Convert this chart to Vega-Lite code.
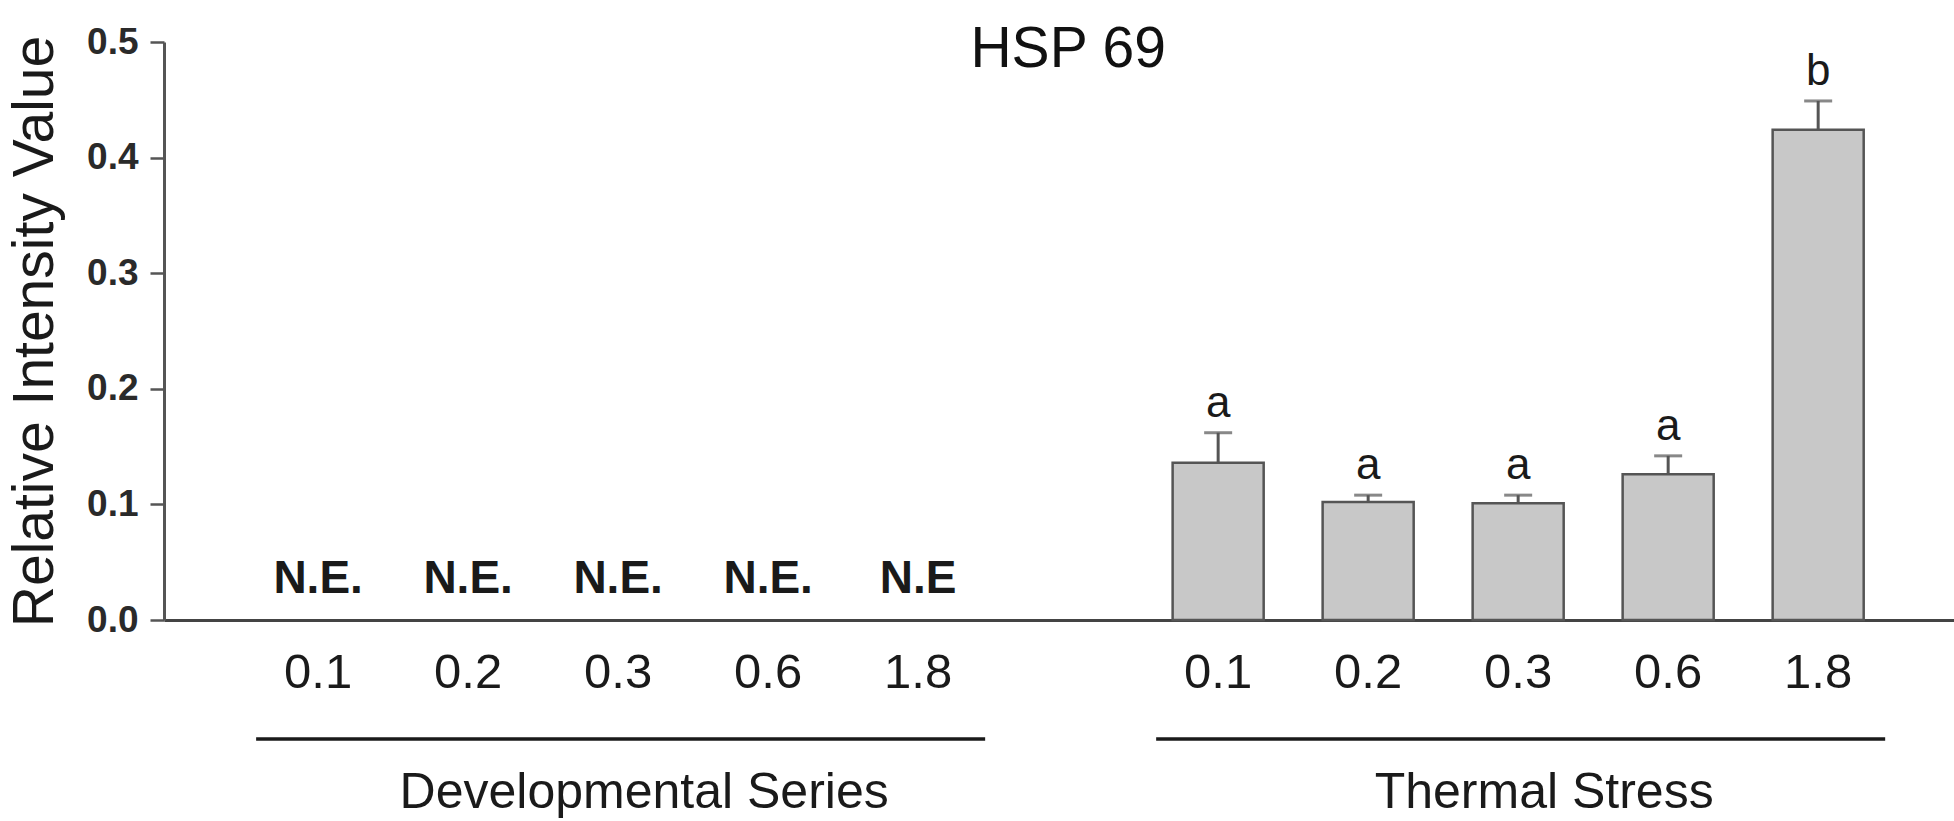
{
  "$schema": "https://vega.github.io/schema/vega-lite/v6.json",
  "autosize": {"type": "none"},
  "padding": {"left": 164, "top": 42, "right": 0, "bottom": 201},
  "width": 1790,
  "height": 578,
  "background": "white",
  "config": {
    "view": {"stroke": null},
    "text": {"font": "Liberation Sans", "color": "#1a1a1a"}
  },
  "datasets": {
    "bars": [
      {"group": "Developmental Series", "dose": "0.1", "key": "D0.1", "mean": null, "err": null, "label": "N.E."},
      {"group": "Developmental Series", "dose": "0.2", "key": "D0.2", "mean": null, "err": null, "label": "N.E."},
      {"group": "Developmental Series", "dose": "0.3", "key": "D0.3", "mean": null, "err": null, "label": "N.E."},
      {"group": "Developmental Series", "dose": "0.6", "key": "D0.6", "mean": null, "err": null, "label": "N.E."},
      {"group": "Developmental Series", "dose": "1.8", "key": "D1.8", "mean": null, "err": null, "label": "N.E"},
      {"group": "Thermal Stress", "dose": "0.1", "key": "T0.1", "mean": 0.136, "err": 0.162, "label": "a"},
      {"group": "Thermal Stress", "dose": "0.2", "key": "T0.2", "mean": 0.102, "err": 0.108, "label": "a"},
      {"group": "Thermal Stress", "dose": "0.3", "key": "T0.3", "mean": 0.101, "err": 0.108, "label": "a"},
      {"group": "Thermal Stress", "dose": "0.6", "key": "T0.6", "mean": 0.126, "err": 0.142, "label": "a"},
      {"group": "Thermal Stress", "dose": "1.8", "key": "T1.8", "mean": 0.424, "err": 0.449, "label": "b"}
    ],
    "groups": [
      {"group": "Developmental Series", "first": "D0.1", "last": "D1.8", "mid": "D0.3"},
      {"group": "Thermal Stress", "first": "T0.1", "last": "T1.8", "mid": "T0.3"}
    ],
    "heading": [
      {"text": "HSP 69", "key": "gap"}
    ]
  },
  "encoding": {
    "x": {
      "field": "key",
      "type": "nominal",
      "sort": null,
      "scale": {
        "domain": ["D0.1", "D0.2", "D0.3", "D0.6", "D1.8", "gap", "T0.1", "T0.2", "T0.3", "T0.6", "T1.8"],
        "paddingInner": 0.393,
        "paddingOuter": 0.663,
        "align": 0.546
      },
      "axis": {
        "title": null,
        "labelExpr": "datum.value == 'gap' ? '' : slice(datum.value, 1)",
        "labelAngle": 0,
        "ticks": false,
        "labelPadding": 28,
        "labelBaseline": "top",
        "labelFont": "Liberation Sans",
        "labelFontSize": 49,
        "labelColor": "#1a1a1a",
        "domainColor": "#444444",
        "domainWidth": 3,
        "grid": false
      }
    }
  },
  "layer": [
    {
      "data": {"name": "bars"},
      "mark": {"type": "bar", "fill": "#c8c8c8", "stroke": "#555555", "strokeWidth": 2.5},
      "encoding": {
        "y": {
          "field": "mean",
          "type": "quantitative",
          "scale": {"domain": [0, 0.5], "nice": false, "zero": true},
          "axis": {
            "title": "Relative Intensity Value",
            "titleFont": "Liberation Sans",
            "titleFontSize": 57,
            "titleFontWeight": "normal",
            "titleColor": "#1a1a1a",
            "titlePadding": 22,
            "values": [0, 0.1, 0.2, 0.3, 0.4, 0.5],
            "format": ".1f",
            "labelFont": "Liberation Sans",
            "labelFontSize": 37,
            "labelFontWeight": "bold",
            "labelColor": "#2a2a2a",
            "labelPadding": 12,
            "tickSize": 14,
            "tickWidth": 2.5,
            "tickColor": "#555555",
            "domainColor": "#555555",
            "domainWidth": 3,
            "grid": false
          }
        }
      }
    },
    {
      "data": {"name": "bars"},
      "mark": {"type": "rule", "stroke": "#555555", "strokeWidth": 3},
      "encoding": {
        "y": {"field": "mean", "type": "quantitative"},
        "y2": {"field": "err"}
      }
    },
    {
      "data": {"name": "bars"},
      "mark": {"type": "tick", "color": "#555555", "size": 28, "thickness": 3, "orient": "horizontal"},
      "encoding": {
        "y": {"field": "err", "type": "quantitative"}
      }
    },
    {
      "data": {"name": "bars"},
      "transform": [{"filter": "datum.err != null"}],
      "mark": {"type": "text", "fontSize": 44, "baseline": "alphabetic", "dy": -16},
      "encoding": {
        "y": {"field": "err", "type": "quantitative"},
        "text": {"field": "label"}
      }
    },
    {
      "data": {"name": "bars"},
      "transform": [{"filter": "datum.err == null"}],
      "mark": {"type": "text", "fontSize": 46, "fontWeight": "bold", "baseline": "alphabetic", "dy": -27},
      "encoding": {
        "y": {"datum": 0},
        "text": {"field": "label"}
      }
    },
    {
      "data": {"name": "groups"},
      "mark": {"type": "rule", "stroke": "#1a1a1a", "strokeWidth": 3.5, "yOffset": 119, "xOffset": -62, "x2Offset": 67},
      "encoding": {
        "x": {"field": "first", "type": "nominal"},
        "x2": {"field": "last"},
        "y": {"datum": 0}
      }
    },
    {
      "data": {"name": "groups"},
      "mark": {"type": "text", "fontSize": 50, "baseline": "alphabetic", "yOffset": 188, "dx": 26},
      "encoding": {
        "x": {"field": "mid", "type": "nominal"},
        "y": {"datum": 0},
        "text": {"field": "group"}
      }
    },
    {
      "data": {"name": "heading"},
      "mark": {"type": "text", "fontSize": 57, "baseline": "alphabetic", "dy": 25, "color": "#111111"},
      "encoding": {
        "x": {"field": "key", "type": "nominal"},
        "y": {"datum": 0.5},
        "text": {"field": "text"}
      }
    }
  ]
}
